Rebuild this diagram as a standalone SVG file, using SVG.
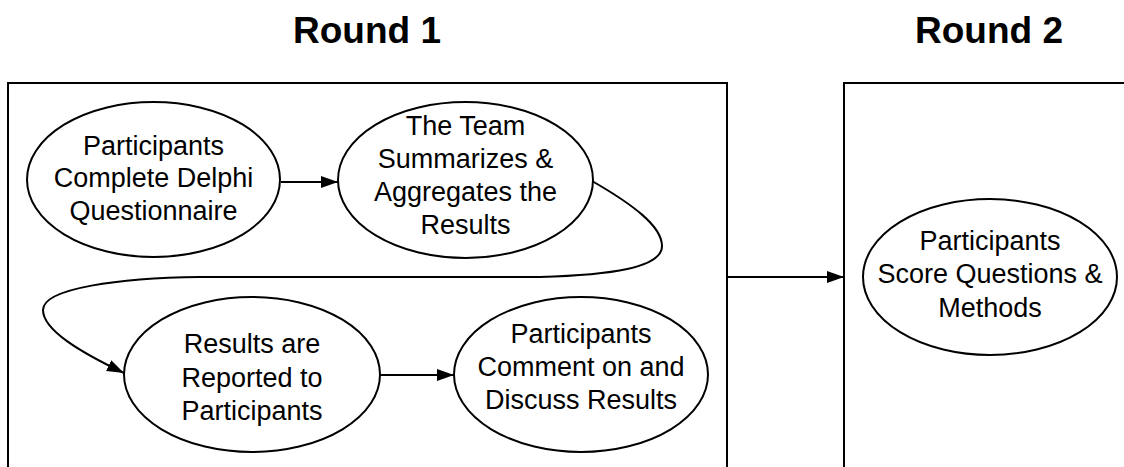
<svg xmlns="http://www.w3.org/2000/svg" width="1124" height="467" viewBox="0 0 1124 467">
  <style>
    .frame { fill: none; stroke: #000; stroke-width: 2; }
    .node { fill: #fff; stroke: #000; stroke-width: 2; }
    .label { font-family: "Liberation Sans", Arial, sans-serif; font-size: 27px; fill: #000; text-anchor: middle; }
    .title { font-family: "Liberation Sans", Arial, sans-serif; font-size: 37px; font-weight: bold; fill: #000; text-anchor: middle; }
    .edge { fill: none; stroke: #000; stroke-width: 2; }
  </style>
  <defs>
    <marker id="arrow" markerUnits="userSpaceOnUse" markerWidth="18" markerHeight="13" refX="17" refY="6" orient="auto">
      <path d="M0,0 L17,6 L0,12 z" fill="#000"/>
    </marker>
  </defs>
  <rect width="1124" height="467" fill="#fff"/>

  <g id="round1">
    <rect class="frame" x="8" y="83" width="719" height="420"/>
    <text class="title" x="367" y="43">Round 1</text>
  </g>
  <g id="round2">
    <rect class="frame" x="844" y="83" width="320" height="420"/>
    <text class="title" x="989" y="43">Round 2</text>
  </g>

  <g id="connectors">
    <line class="edge" x1="281" y1="182" x2="338" y2="182" marker-end="url(#arrow)"/>
    <path class="edge" d="M592,181 C632,204 662,226 662,246 C662,268 610,275 540,277 L200,277 C120,278 43,288 43,310 C43,330 80,352 124,373" marker-end="url(#arrow)"/>
    <line class="edge" x1="380" y1="375" x2="454" y2="375" marker-end="url(#arrow)"/>
    <line class="edge" x1="727" y1="277" x2="844" y2="277" marker-end="url(#arrow)"/>
  </g>

  <g id="n1">
    <ellipse class="node" cx="153.5" cy="179.5" rx="126.5" ry="77.5"/>
    <text class="label" x="153.5" y="155">Participants</text>
    <text class="label" x="153.5" y="187">Complete Delphi</text>
    <text class="label" x="153.5" y="220">Questionnaire</text>
  </g>
  <g id="n2">
    <ellipse class="node" cx="465.5" cy="180" rx="127.5" ry="78"/>
    <text class="label" x="465.5" y="135">The Team</text>
    <text class="label" x="465.5" y="168">Summarizes &amp;</text>
    <text class="label" x="465.5" y="201">Aggregates the</text>
    <text class="label" x="465.5" y="234">Results</text>
  </g>
  <g id="n3">
    <ellipse class="node" cx="252" cy="374.5" rx="128" ry="77.5"/>
    <text class="label" x="252" y="353">Results are</text>
    <text class="label" x="252" y="387">Reported to</text>
    <text class="label" x="252" y="420">Participants</text>
  </g>
  <g id="n4">
    <ellipse class="node" cx="581" cy="374.5" rx="127" ry="77.5"/>
    <text class="label" x="581" y="343">Participants</text>
    <text class="label" x="581" y="376">Comment on and</text>
    <text class="label" x="581" y="409">Discuss Results</text>
  </g>
  <g id="n5">
    <ellipse class="node" cx="990" cy="277" rx="127" ry="78"/>
    <text class="label" x="990" y="250">Participants</text>
    <text class="label" x="990" y="283">Score Questions &amp;</text>
    <text class="label" x="990" y="317">Methods</text>
  </g>
</svg>
